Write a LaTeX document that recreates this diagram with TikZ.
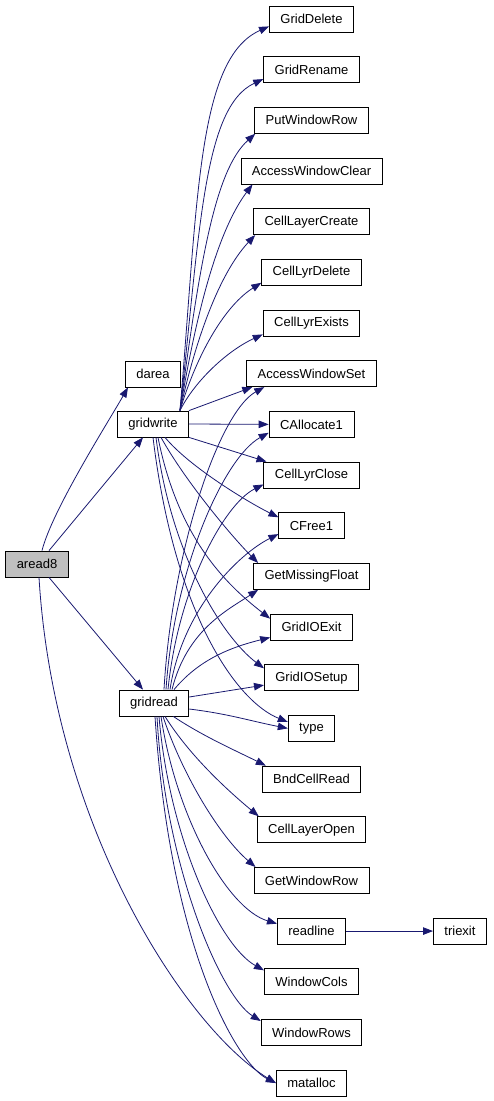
\documentclass[tikz,border=0pt]{standalone}
\usepackage{fontspec}
\setmainfont{Liberation Sans}
\usepackage{tikz}
\usetikzlibrary{arrows.meta, positioning}
\definecolor{callblue}{HTML}{191970}
\definecolor{rootgray}{HTML}{BFBFBF}

\begin{document}
\begin{tikzpicture}[
    x=1pt, y=-1pt,
    node distance=23.87pt,
    fn/.style={rectangle, draw, line width=0.8pt, minimum height=26pt, inner xsep=11pt, font=\fontsize{13}{15}\selectfont},
    call/.style={-{Triangle[length=10pt,width=7.5pt]}, callblue, line width=0.8pt},
]
\useasboundingbox (0,0) rectangle (493,1101);

% callers
\node[fn, fill=rootgray] (aread8) at (37,564) {aread8};
\node[fn] (darea) at (153,374) {darea};
\node[fn] (gridwrite) at (153,424) {gridwrite};
\node[fn] (gridread) at (154,703) {gridread};

% callees
\node[fn] (griddelete) at (311.5,19) {GridDelete};
\node[fn, below=of griddelete] (gridrename) {GridRename};
\node[fn, below=of gridrename] (putrow) {PutWindowRow};
\node[fn, below=of putrow] (winclear) {AccessWindowClear};
\node[fn, below=of winclear] (laycreate) {CellLayerCreate};
\node[fn, below=of laycreate] (lyrdelete) {CellLyrDelete};
\node[fn, below=of lyrdelete] (lyrexists) {CellLyrExists};
\node[fn, below=of lyrexists] (winset) {AccessWindowSet};
\node[fn, below=of winset] (callocate) {CAllocate1};
\node[fn, below=of callocate] (lyrclose) {CellLyrClose};
\node[fn, below=of lyrclose] (cfree) {CFree1};
\node[fn, below=of cfree] (missing) {GetMissingFloat};
\node[fn, below=of missing] (ioexit) {GridIOExit};
\node[fn, below=of ioexit] (iosetup) {GridIOSetup};
\node[fn, below=of iosetup] (type) {type};
\node[fn, below=of type] (bndread) {BndCellRead};
\node[fn, below=of bndread] (layopen) {CellLayerOpen};
\node[fn, below=of layopen] (getrow) {GetWindowRow};
\node[fn, below=of getrow] (readline) {readline};
\node[fn, below=of readline] (wincols) {WindowCols};
\node[fn, below=of wincols] (winrows) {WindowRows};
\node[fn, below=of winrows] (matalloc) {matalloc};
\node[fn, right=87pt of readline] (triexit) {triexit};

% aread8
\draw[call] ([xshift=5pt]aread8.north) .. controls +(10,-40) and +(-20,35) .. ([xshift=3pt]darea.south west);
\draw[call] ([xshift=12pt]aread8.north) -- ([xshift=-10pt]gridwrite.south);
\draw[call] ([xshift=12pt]aread8.south) -- ([xshift=-11pt]gridread.north);
\draw[call] ([xshift=2pt]aread8.south) .. controls +(15,250) and +(-90,-55) .. (matalloc.west);

% gridwrite
\draw[call] ([xshift=-9pt]gridwrite.north east) .. controls +(18,-210) and +(-72,32) .. ([yshift=6pt]griddelete.south west);
\draw[call] ([xshift=-9pt]gridwrite.north east) .. controls +(20,-180) and +(-60,28) .. ([yshift=4pt]gridrename.south west);
\draw[call] ([xshift=-9pt]gridwrite.north east) .. controls +(20,-150) and +(-40,36) .. ([xshift=1pt]putrow.south west);
\draw[call] ([xshift=-9pt]gridwrite.north east) .. controls +(20,-120) and +(-30,40) .. ([xshift=12pt]winclear.south west);
\draw[call] ([xshift=-9pt]gridwrite.north east) .. controls +(20,-90) and +(-30,32) .. ([xshift=2pt]laycreate.south west);
\draw[call] ([xshift=-9pt]gridwrite.north east) .. controls +(18,-60) and +(-35,22) .. ([yshift=3pt]lyrdelete.south west);
\draw[call] ([xshift=-9pt]gridwrite.north east) .. controls +(15,-30) and +(-35,16) .. ([yshift=2pt]lyrexists.south west);
\draw[call] (gridwrite.north east) -- ([xshift=6pt]winset.south west);
\draw[call] (gridwrite.east) -- (callocate.west);
\draw[call] (gridwrite.south east) -- ([xshift=3pt]lyrclose.north west);
\draw[call] ([xshift=12pt]gridwrite.south) .. controls +(25,30) and +(-30,-15) .. ([yshift=-5pt]cfree.north west);
\draw[call] ([xshift=8pt]gridwrite.south) .. controls +(25,45) and +(-25,-25) .. ([xshift=5pt]missing.north west);
\draw[call] ([xshift=5pt]gridwrite.south) .. controls +(20,100) and +(-45,-35) .. ([yshift=-5pt]ioexit.north west);
\draw[call] ([xshift=3pt]gridwrite.south) .. controls +(15,120) and +(-40,-30) .. ([yshift=-4pt]iosetup.north west);
\draw[call] (gridwrite.south) .. controls +(22,180) and +(-50,-20) .. ([yshift=-7pt]type.north west);

% gridread
\draw[call] ([xshift=10pt]gridread.north) .. controls +(8,-140) and +(-45,25) .. ([xshift=18pt]winset.south west);
\draw[call] ([xshift=12pt]gridread.north) .. controls +(8,-120) and +(-45,25) .. ([yshift=5pt]callocate.south west);
\draw[call] ([xshift=14pt]gridread.north) .. controls +(10,-100) and +(-40,20) .. ([yshift=4pt]lyrclose.south west);
\draw[call] ([xshift=16pt]gridread.north) .. controls +(12,-80) and +(-40,20) .. ([yshift=5pt]cfree.south west);
\draw[call] ([xshift=18pt]gridread.north) .. controls +(15,-60) and +(-30,20) .. ([xshift=5pt]missing.south west);
\draw[call] ([xshift=20pt]gridread.north) .. controls +(25,-30) and +(-40,10) .. ([yshift=3pt]ioexit.south west);
\draw[call] ([yshift=6pt]gridread.east) -- ([yshift=6pt]iosetup.south west);
\draw[call] ([yshift=-6pt]gridread.east) .. controls +(40,5) and +(-40,-8) .. (type.west);
\draw[call] ([xshift=-16pt]gridread.south east) .. controls +(30,20) and +(-30,-15) .. ([xshift=4pt]bndread.north west);
\draw[call] ([xshift=11pt]gridread.south) .. controls +(25,40) and +(-30,-25) .. ([xshift=2pt]layopen.north west);
\draw[call] ([xshift=9pt]gridread.south) .. controls +(20,60) and +(-35,-30) .. ([xshift=2pt]getrow.north west);
\draw[call] ([xshift=7pt]gridread.south) .. controls +(15,100) and +(-50,-15) .. ([yshift=-6pt]readline.north west);
\draw[call] ([xshift=5pt]gridread.south) .. controls +(10,120) and +(-45,-25) .. ([yshift=-2pt]wincols.north west);
\draw[call] ([xshift=3pt]gridread.south) .. controls +(8,150) and +(-40,-25) .. ([yshift=-2pt]winrows.north west);
\draw[call] ([xshift=1pt]gridread.south) .. controls +(15,230) and +(-40,-20) .. (matalloc.west);

% readline
\draw[call] (readline) -- (triexit);
\end{tikzpicture}
\end{document}
